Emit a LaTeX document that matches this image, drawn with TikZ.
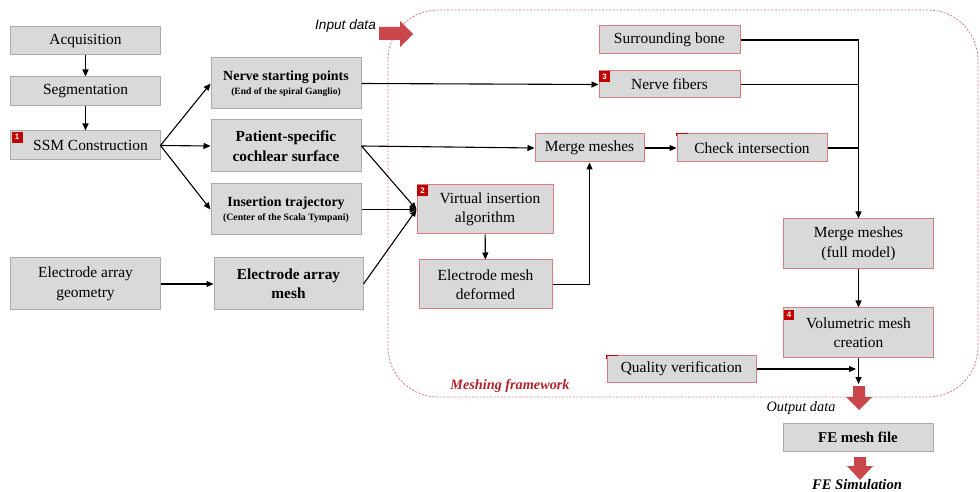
\documentclass[tikz,border=0pt]{standalone}
\usepackage{fontspec}
\setmainfont{Liberation Serif}
\newfontfamily\sansf{Liberation Sans}
\usetikzlibrary{arrows.meta}
\definecolor{boxfill}{HTML}{D9D9D9}
\definecolor{boxline}{HTML}{ABABAB}
\definecolor{redline}{HTML}{DB7A80}
\definecolor{badgered}{HTML}{C00000}
\definecolor{blockred}{HTML}{C9474B}
\definecolor{dashred}{HTML}{D27C7C}
\definecolor{fwred}{HTML}{B3212B}
\begin{document}
\begin{tikzpicture}[x=1bp,y=-1bp,
 base/.style={fill=boxfill, line width=1bp, inner sep=0pt, align=center, font=\fontsize{15.5}{19.5}\selectfont},
 gbox/.style={base, draw=boxline},
 rbox/.style={base, draw=redline},
 boldbig/.style={font=\bfseries\fontsize{15.4}{19.5}\selectfont},
 boldsub/.style={font=\bfseries},
 arr/.style={draw=black, line width=1.1bp, -{Triangle[length=7bp,width=6bp]}},
 ln/.style={draw=black, line width=1.1bp},
 badge/.style={fill=badgered, text=white, minimum size=11bp, inner sep=0pt, anchor=north west, font=\sansf\bfseries\fontsize{8}{8}\selectfont},
 redmark/.style={draw=badgered, line width=1.6bp},
 blockarrow/.style={fill=blockred, draw=none},
 frame/.style={draw=dashred, line width=0.8bp, dash pattern=on 2bp off 1.6bp, rounded corners=50bp},
]
\useasboundingbox (0,0) rectangle (980,492);

% framework boundary
\draw[frame] (388,10) rectangle (978,397);

% left column
\node[gbox, minimum width=149bp, minimum height=28bp] (acq) at (85.5,41) {Acquisition};
\node[gbox, minimum width=149bp, minimum height=29bp] (seg) at (85.5,91.5) {Segmentation};
\node[gbox, minimum width=149bp, minimum height=29bp] (ssm) at (85.5,145.5) {\hspace*{10bp}SSM Construction};
\node[badge] at ([xshift=1bp,yshift=-1bp]ssm.north west) {1};

\node[gbox, boldsub, minimum width=150bp, minimum height=51bp] (nsp) at (286,83.5)
 {\fontsize{14}{17}\selectfont Nerve starting points\\[2bp]\fontsize{9.6}{12}\selectfont (End of the spiral Ganglio)};
\node[gbox, boldbig, minimum width=150bp, minimum height=52bp] (pcs) at (286,146)
 {Patient-specific\\cochlear surface};
\node[gbox, boldsub, minimum width=150bp, minimum height=51bp] (itr) at (286,209.5)
 {\fontsize{14}{17}\selectfont Insertion trajectory\\[2bp]\fontsize{9.8}{12}\selectfont (Center of the Scala Tympani)};

\node[gbox, minimum width=149bp, minimum height=52bp] (eag) at (85.5,284) {Electrode array\\geometry};
\node[gbox, boldbig, minimum width=149bp, minimum height=52bp] (eam) at (288.5,284)
 {Electrode array\\mesh};

% framework boxes
\node[rbox, minimum width=141bp, minimum height=28bp] (sbo) at (669.5,40) {Surrounding bone};
\node[rbox, minimum width=141bp, minimum height=27bp] (nfi) at (669.5,84.5) {Nerve fibers};
\node[badge] at ([xshift=0.5bp,yshift=-0.5bp]nfi.north west) {3};
\node[rbox, minimum width=109bp, minimum height=28bp] (mm1) at (589.5,148) {Merge meshes};
\node[rbox, minimum width=150bp, minimum height=28bp] (chk) at (752,148) {Check intersection};
\draw[redmark] ([yshift=-3bp]chk.north west) -- (chk.north west) -- ++(11,0);
\node[rbox, minimum width=136bp, minimum height=49bp] (via) at (485,209.5) {\hspace*{10bp}Virtual insertion\\algorithm};
\node[badge] at ([xshift=0.5bp,yshift=-0.5bp]via.north west) {2};
\node[rbox, minimum width=133bp, minimum height=49bp] (emd) at (485.5,284.5) {Electrode mesh\\deformed};
\node[rbox, minimum width=150bp, minimum height=50bp] (mmf) at (858.5,244) {Merge meshes\\(full model)};
\node[rbox, minimum width=150bp, minimum height=49bp] (vol) at (858.5,332.5) {Volumetric mesh\\creation};
\node[badge, minimum size=10bp] at ([xshift=1bp,yshift=-2bp]vol.north west) {4};
\node[rbox, minimum width=149bp, minimum height=26bp] (qve) at (681.5,369) {Quality verification};
\draw[redmark] ([yshift=-3bp]qve.north west) -- (qve.north west) -- ++(11,0);

\node[gbox, font=\bfseries\fontsize{15}{19}\selectfont, minimum width=150bp, minimum height=28bp] (fem) at (858,437)
 {FE mesh file};

% labels
\node[font=\sansf\itshape\fontsize{13.7}{16}\selectfont] (inlab) at (345.5,26) {Input data};
\node[font=\itshape\fontsize{14.4}{17}\selectfont] (outlab) at (801,408) {Output data};
\node[font=\bfseries\itshape\fontsize{14.7}{17}\selectfont, inner sep=0pt, anchor=base] (simlab) at (857,489) {FE Simulation};
\node[font=\bfseries\itshape\fontsize{14.3}{16}\selectfont, text=fwred] (fwlab) at (510,386) {Meshing framework};

% block arrows
\fill[blockarrow] (379,27) -- (400,27) -- (400,21) -- (413,34) -- (400,47) -- (400,40) -- (379,40) -- cycle;
\fill[blockarrow] (853,386) -- (865,386) -- (865,397) -- (872,397) -- (859,410) -- (846,397) -- (853,397) -- cycle;
\fill[blockarrow] (854,457) -- (866,457) -- (866,466) -- (873,466) -- (860,480) -- (847,466) -- (854,466) -- cycle;

% connectors
\draw[arr] (acq) -- (seg);
\draw[arr] (seg) -- (ssm);
\draw[arr] (ssm.east) -- (nsp.west);
\draw[arr] (ssm.east) -- (pcs.west);
\draw[arr] (ssm.east) -- (itr.west);
\draw[arr] (eag.east) -- (eam.west);
\draw[arr] (nsp.east) -- (nfi.west);
\draw[arr] (pcs.east) -- (mm1.west);
\draw[arr] (pcs.east) -- (via.west);
\draw[arr] (itr.east) -- (via.west);
\draw[arr] (eam.east) -- (via.west);
\draw[arr] (via) -- (emd);
\draw[arr] (emd.east) -| (mm1.south);
\draw[arr] (mm1.east) -- (chk.west);
\draw[arr] (sbo.east) -| (mmf.north);
\draw[ln] (nfi.east) -- (nfi.east -| mmf.north);
\draw[ln] (chk.east) -- (chk.east -| mmf.north);
\draw[arr] (mmf) -- (vol);
\coordinate (vend) at (858.5,384);
\coordinate (qend) at (856,369);
\draw[arr] (vol.south) -- (vend);
\draw[arr] (qve.east) -- (qend);
\end{tikzpicture}
\end{document}
